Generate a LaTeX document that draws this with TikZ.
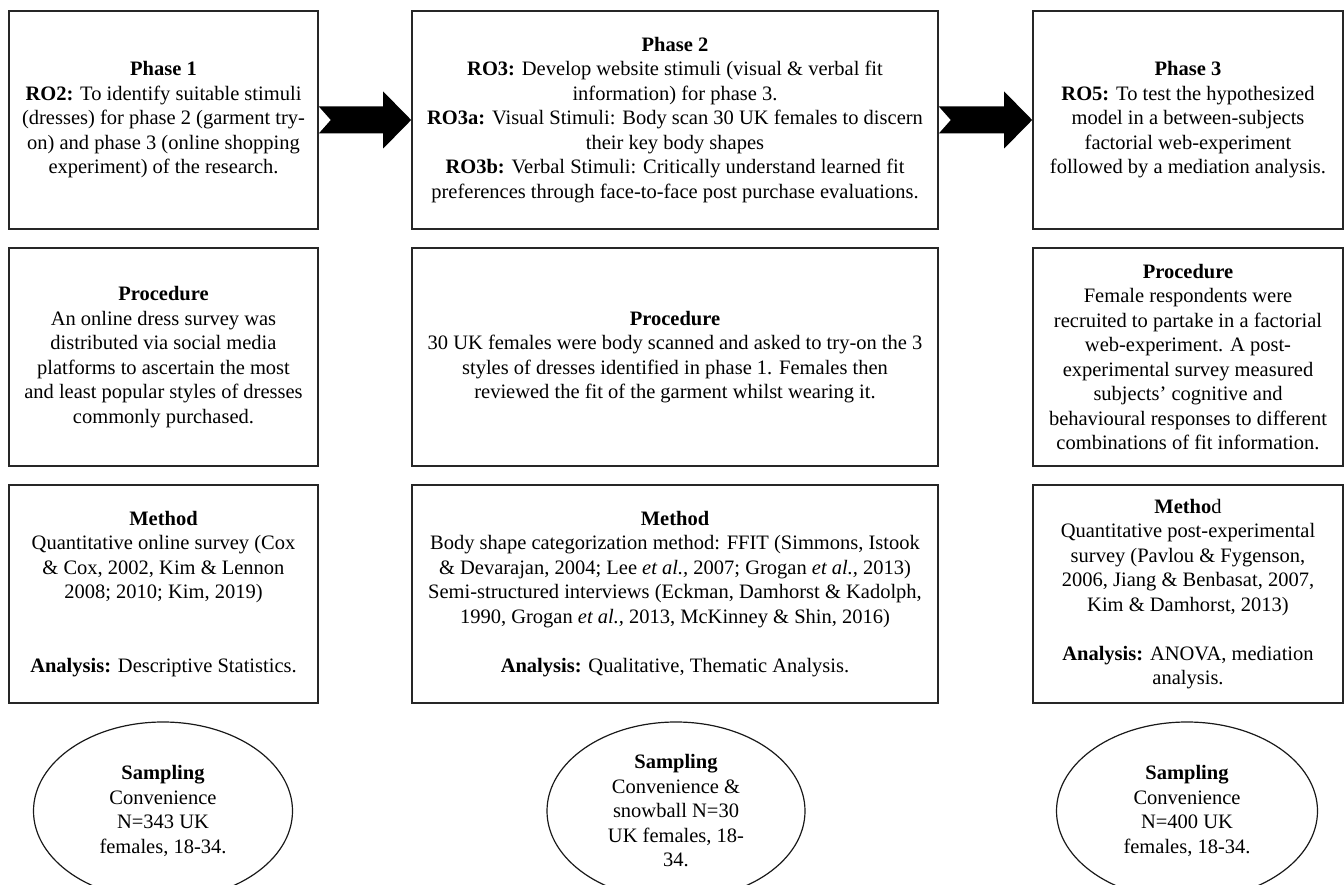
\documentclass[tikz,border=0pt]{standalone}
\usepackage{fontspec}
\setmainfont{Liberation Serif}
\usetikzlibrary{shapes.geometric,calc}
\begin{document}
\begin{tikzpicture}[x=1pt,y=-1pt,
  txt/.style={font=\fontsize{20.5}{24.5}\selectfont, align=center, inner sep=0pt},
  box/.style={txt, draw=black!85, line width=1.6pt, rectangle, minimum height=218pt},
  narrow/.style={box, minimum width=309pt},
  wide/.style={box, minimum width=526pt},
  oval/.style={txt, draw=black!90, line width=1.2pt, ellipse, minimum width=259pt, minimum height=178pt},
  bigarrow/.style={fill=black}]
\useasboundingbox (0,0) rectangle (1344,885);
\clip (0,0) rectangle (1344,885);

% top row
\node[narrow] (p1) at (163.5,120) {\textbf{Phase 1}\\ \textbf{RO2:} To identify suitable stimuli\\ (dresses) for phase 2 (garment try-\\ on) and phase 3 (online shopping\\ experiment) of the research.};
\node[wide] (p2) at (675,120) {\textbf{Phase 2}\\ \textbf{RO3:} Develop website stimuli (visual \& verbal fit\\ information) for phase 3.\\ \textbf{RO3a:} Visual Stimuli: Body scan 30 UK females to discern\\ their key body shapes\\ \textbf{RO3b:} Verbal Stimuli: Critically understand learned fit\\ preferences through face-to-face post purchase evaluations.};
\node[narrow, minimum width=310pt] (p3) at (1188,120) {\textbf{Phase 3}\\ \textbf{RO5:} To test the hypothesized\\ model in a between-subjects\\ factorial web-experiment\\ followed by a mediation analysis.};

% middle row
\node[narrow] (r1) at (163.5,357) {\textbf{Procedure}\\ An online dress survey was\\ distributed via social media\\ platforms to ascertain the most\\ and least popular styles of dresses\\ commonly purchased.};
\node[wide] (r2) at (675,357) {\textbf{Procedure}\\ 30 UK females were body scanned and asked to try-on the 3\\ styles of dresses identified in phase 1. Females then\\ reviewed the fit of the garment whilst wearing it.};
\node[narrow, minimum width=310pt] (r3) at (1188,357) {\textbf{Procedure}\\ Female respondents were\\ recruited to partake in a factorial\\ web-experiment. A post-\\ experimental survey measured\\ subjects’ cognitive and\\ behavioural responses to different\\ combinations of fit information.};

% bottom row
\node[narrow] (m1) at (163.5,594) {\textbf{Method}\\ Quantitative online survey (Cox\\ \& Cox, 2002, Kim \& Lennon\\ 2008; 2010; Kim, 2019)\\[49pt] \textbf{Analysis:} Descriptive Statistics.};
\node[wide] (m2) at (675,594) {\textbf{Method}\\ Body shape categorization method: FFIT (Simmons, Istook\\ \& Devarajan, 2004; Lee \textit{et al.,} 2007; Grogan \textit{et al.,} 2013)\\ Semi-structured interviews (Eckman, Damhorst \& Kadolph,\\ 1990, Grogan \textit{et al.,} 2013, McKinney \& Shin, 2016)\\[24.5pt] \textbf{Analysis:} Qualitative, Thematic Analysis.};
\node[narrow, minimum width=310pt] (m3) at (1188,594) {\textbf{Metho}d\\ Quantitative post-experimental\\ survey (Pavlou \& Fygenson,\\ 2006, Jiang \& Benbasat, 2007,\\ Kim \& Damhorst, 2013)\\[24.5pt] \textbf{Analysis:} ANOVA, mediation\\ analysis.};

% sampling ellipses
\node[oval] (s1) at (163,811) {\textbf{Sampling}\\ Convenience\\ N=343 UK\\ females, 18-34.};
\node[oval, minimum width=258pt] (s2) at (676,811) {\textbf{Sampling}\\ Convenience \&\\ snowball N=30\\ UK females, 18-\\ 34.};
\node[oval, minimum width=261pt] (s3) at (1187,811) {\textbf{Sampling}\\ Convenience\\ N=400 UK\\ females, 18-34.};

% big arrows
\fill[bigarrow] ($(p1.east)+(0,-13.5)$) -- ($(p2.west)+(-28,-13.5)$) -- ($(p2.west)+(-28,-28.5)$) -- (p2.west) -- ($(p2.west)+(-28,28.5)$) -- ($(p2.west)+(-28,13.5)$) -- ($(p1.east)+(0,13.5)$) -- ($(p1.east)+(12,0)$) -- cycle;
\fill[bigarrow] ($(p2.east)+(0,-13.5)$) -- ($(p3.west)+(-28,-13.5)$) -- ($(p3.west)+(-28,-28.5)$) -- (p3.west) -- ($(p3.west)+(-28,28.5)$) -- ($(p3.west)+(-28,13.5)$) -- ($(p2.east)+(0,13.5)$) -- ($(p2.east)+(12,0)$) -- cycle;
\end{tikzpicture}
\end{document}
